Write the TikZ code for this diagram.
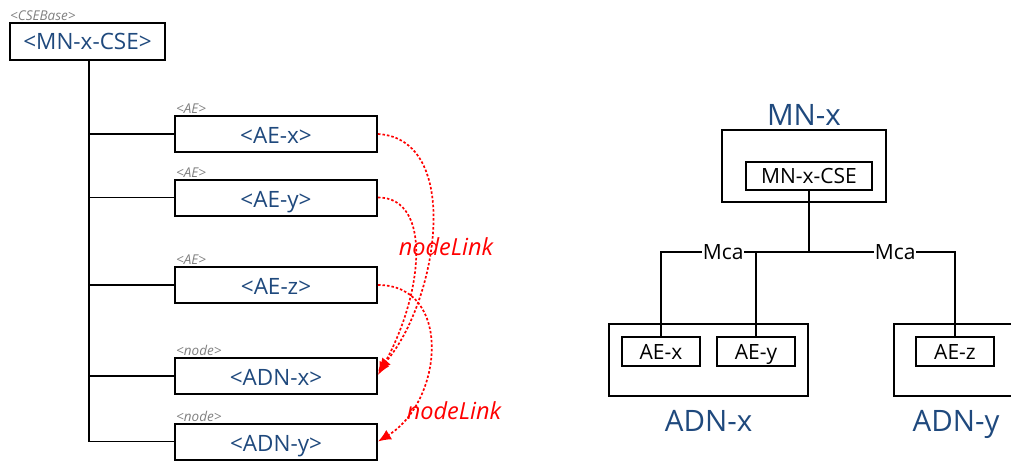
\documentclass[tikz,border=0pt]{standalone}
\usepackage{fontspec}
\setmainfont{Open Sans}
\usepackage{xcolor}
\usetikzlibrary{positioning,arrows.meta}
\definecolor{resblue}{RGB}{31,73,125}

\begin{document}
\begin{tikzpicture}[x=1pt, y=-1pt,
    res/.style     ={draw=black, line width=2pt, fill=white, inner sep=0pt,
                     minimum width=202pt, minimum height=36pt, text=resblue,
                     text height=21pt, text depth=1.5pt,
                     font=\fontsize{22.5}{25}\selectfont},
    restype/.style ={text=black!50, inner sep=1pt, font=\fontsize{13.5}{14}\selectfont\itshape},
    link/.style    ={red, line width=1.7pt, dash pattern=on 2.5pt off 2pt,
                     -{Latex[length=13pt,width=11pt]}},
    linklabel/.style={red, font=\fontsize{23.5}{26}\selectfont\itshape},
    trunk/.style   ={draw=black, line width=2.6pt},
    tree/.style    ={draw=black, line width=1.8pt},
    devbox/.style  ={draw=black, line width=2pt, inner sep=0pt, minimum height=72pt},
    entbox/.style  ={draw=black, line width=2pt, fill=white, inner sep=0pt,
                     minimum width=78pt, minimum height=29pt,
                     text height=16.8pt, text depth=1.8pt,
                     font=\fontsize{21}{23}\selectfont},
    devtitle/.style={text=resblue, font=\fontsize{29.5}{32}\selectfont},
    mca/.style     ={fill=white, inner sep=1pt, font=\fontsize{21}{23}\selectfont}
  ]
    \useasboundingbox (0,0) rectangle (1011,463);
    \clip (0,0) rectangle (1011,463);

    % --- resource tree ---
    \node[res, minimum width=155pt, minimum height=37pt, text height=16pt, text depth=0pt]
      (cse) at (87.5, 41.5) {<MN-x-CSE>};
    \node[restype, anchor=south west] at (cse.north west) {<CSEBase>};

    \node[res] (aex) at (276, 134) {<AE-x>};
    \node[res] (aey) at (276, 197.5) {<AE-y>};
    \node[res] (aez) at (276, 285) {<AE-z>};
    \node[res] (adnx) at (276, 376) {<ADN-x>};
    \node[res] (adny) at (276, 441.5) {<ADN-y>};
    \foreach \n/\t in {aex/AE, aey/AE, aez/AE, adnx/node, adny/node}
      \node[restype, anchor=south west] at ([xshift=1pt]\n.north west) {<\t>};

    % branches from the CSE
    \draw[trunk] ([xshift=1.5pt]cse.south) -- ([xshift=1.5pt]cse.south |- adny.west);
    \foreach \n in {aex, aey, aez, adnx, adny}
      \draw[tree] ([xshift=1.5pt]cse.south |- \n.west) -- (\n.west);

    % nodeLink attributes
    \draw[link] (aex.east) .. controls +(85,5) and +(60,-70) .. ([yshift=5pt]adnx.east);
    \draw[link] (aey.east) .. controls +(55,0) and +(45,-80) .. ([yshift=1pt]adnx.east);
    \draw[link] (aez.east) .. controls +(75,0) and +(65,-40) .. (adny.east);
    \node[linklabel] (nl1) at (446, 247) {nodeLink};
    \node[linklabel] (nl2) at (454, 411) {nodeLink};

    % --- deployment view ---
    \node[devbox, minimum width=164pt] (mnx) at (804, 166) {};
    \node[devtitle, above=0pt of mnx] (mnxt) {MN-x};
    \node[entbox, minimum width=126pt, minimum height=28pt] (mcse) at (809, 176) {MN-x-CSE};

    \node[devbox, minimum width=199pt] (adnxbox) at (708.5, 360) {};
    \node[devtitle, below=10pt of adnxbox] (adnxt) {ADN-x};
    \node[entbox] (aex2) at (661, 351.5) {AE-x};
    \node[entbox] (aey2) at (756, 351.5) {AE-y};

    \node[devbox, minimum width=150pt] (adnybox) at (969, 360) {};
    \node[devtitle, below=10pt of adnybox.south west, anchor=north, xshift=63pt] (adnyt) {ADN-y};
    \node[entbox] (aez2) at (955, 351.5) {AE-z};

    % Mca reference points
    \coordinate (bus) at (809, 252);
    \draw[tree] (mcse.south) -- (bus);
    \draw[tree] (aey2.north) -- (aey2.north |- bus);
    \draw[tree] (aex2.north) |- (bus) node[mca, pos=0.71] {Mca};
    \draw[tree] (aez2.north) |- (bus) node[mca, pos=0.705] {Mca};
  \end{tikzpicture}
\end{document}
